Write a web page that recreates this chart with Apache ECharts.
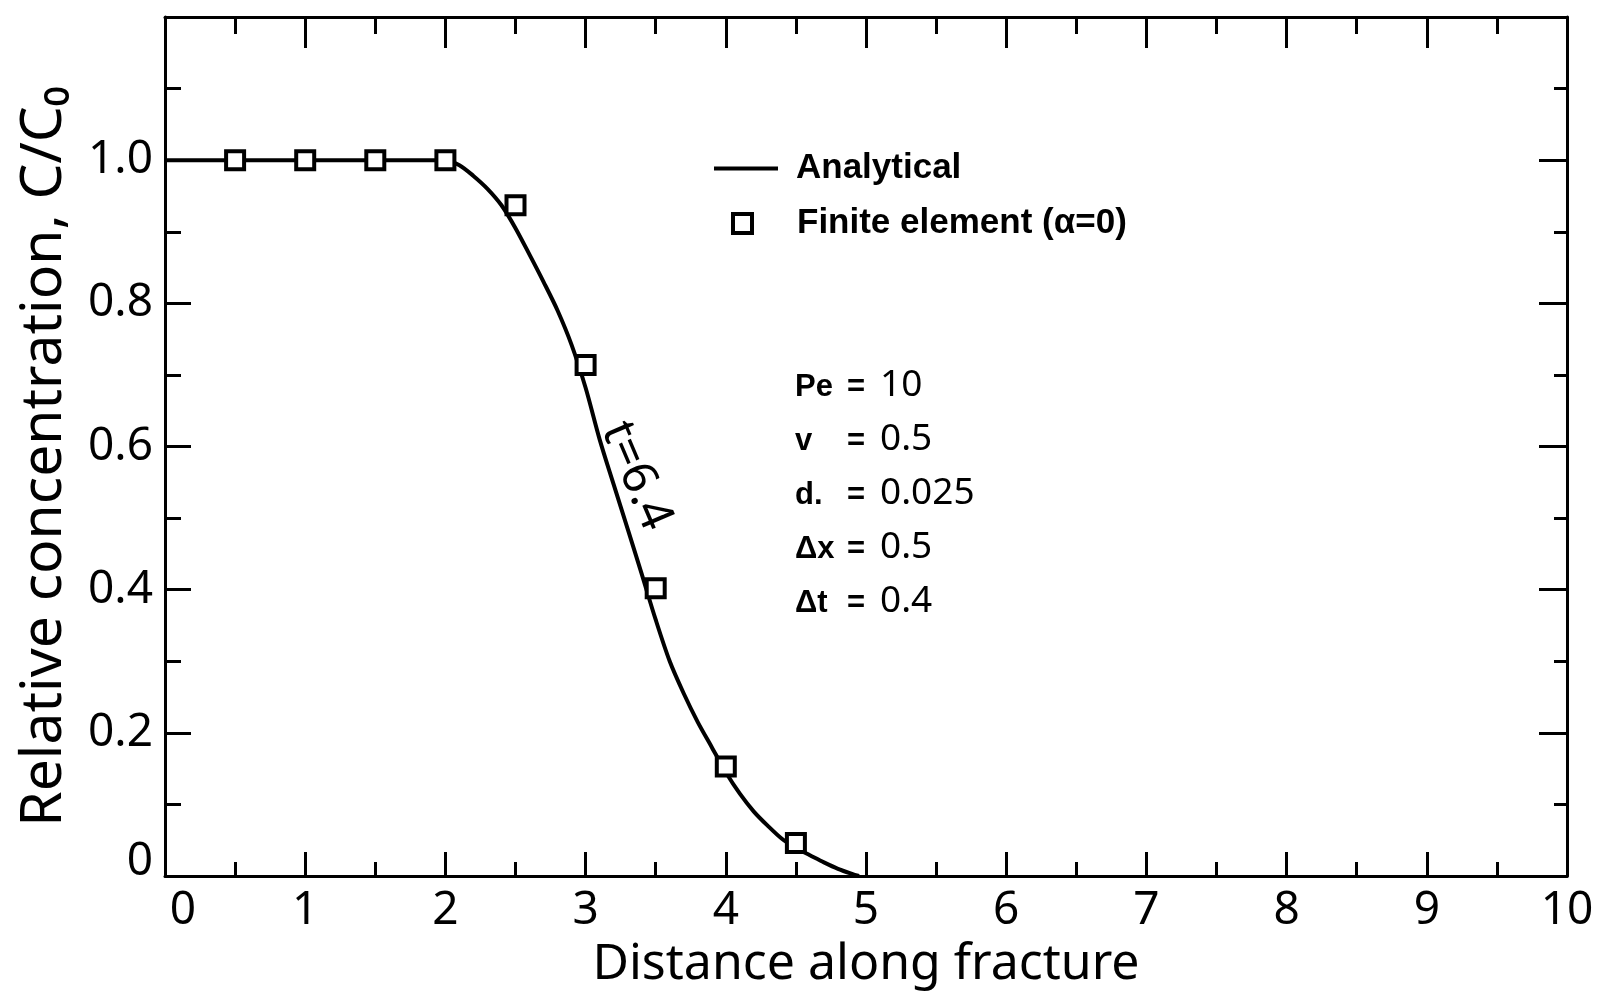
<!DOCTYPE html>
<html>
<head>
<meta charset="utf-8">
<script src="https://cdn.jsdelivr.net/npm/echarts@6/dist/echarts.min.js"></script>
<style>
html,body{margin:0;padding:0;background:#fff;}
#chart{width:1597px;height:1001px;}
</style>
</head>
<body>
<div id="chart"></div>
<script>
// Analytical curve
const analyticalX = [0, 1.0, 2.0, 2.1, 2.2, 2.3, 2.4, 2.5, 2.6, 2.7, 2.8, 2.9, 3.0, 3.1, 3.2, 3.3, 3.4, 3.5, 3.6, 3.7, 3.8, 3.9, 4.0, 4.1, 4.2, 4.3, 4.4, 4.5, 4.6, 4.7, 4.8, 4.9, 4.95];
const analyticalY = [1, 1, 1, 0.993, 0.978, 0.960, 0.937, 0.905, 0.868, 0.830, 0.790, 0.742, 0.682, 0.610, 0.547, 0.485, 0.422, 0.358, 0.300, 0.255, 0.215, 0.180, 0.145, 0.115, 0.090, 0.070, 0.052, 0.039, 0.029, 0.019, 0.010, 0.003, 0.0];
// Finite element points
const feX = [0.5, 1.0, 1.5, 2.0, 2.5, 3.0, 3.5, 4.0, 4.5];
const feY = [1.0, 1.0, 1.0, 1.0, 0.937, 0.714, 0.402, 0.153, 0.046];
// Axis ticks
const xTicks = [0, 1, 2, 3, 4, 5, 6, 7, 8, 9, 10];
const yTickLabels = ['0', '0.2', '0.4', '0.6', '0.8', '1.0', ''];
// Annotation texts
const paramLabels = ['Pe', 'v', 'd.', '\u0394x', '\u0394t'];
const paramValues = ['10', '0.5', '0.025', '0.5', '0.4'];
const curveLabel = 't=6.4';

const FONT = '"Noto Sans", "DejaVu Sans", sans-serif';
const BOLD = '"Liberation Sans", Arial, sans-serif';

const chart = echarts.init(document.getElementById('chart'), null, {renderer: 'canvas'});

const lineStyleAxis = {color: '#000', width: 3};
const axisCommon = {
  axisLine: {show: true, onZero: false, lineStyle: lineStyleAxis},
  splitLine: {show: false},
};

const paramGraphics = [];
paramLabels.forEach((lab, i) => {
  const y = 390 + i * 54;
  paramGraphics.push({type: 'text', left: 795, top: y - 18, style: {text: lab, font: 'bold 31px ' + BOLD, fill: '#000'}});
  paramGraphics.push({type: 'text', left: 847, top: y - 18, style: {text: '=', font: 'bold 31px ' + BOLD, fill: '#000'}});
  paramGraphics.push({type: 'text', left: 880, top: y - 23, style: {text: paramValues[i], font: '37px ' + FONT, fill: '#000'}});
});

const option = {
  animation: false,
  backgroundColor: '#fff',
  textStyle: {fontFamily: FONT, color: '#000'},
  grid: {left: 165, right: 30, top: 17, bottom: 125, containLabel: false},
  legend: [
    {
      data: [{name: 'Analytical', icon: 'rect'}], left: 709, top: 146, orient: 'vertical',
      itemWidth: 64, itemHeight: 4,
      itemStyle: {color: '#000', borderWidth: 0},
      textStyle: {fontFamily: BOLD, fontWeight: 'bold', fontSize: 35, color: '#000', padding: [0, 0, 0, 13]}
    },
    {
      data: ['Finite element (\u03b1=0)'], left: 726, top: 201, orient: 'vertical',
      itemWidth: 19, itemHeight: 19,
      itemStyle: {color: '#fff', borderColor: '#000', borderWidth: 4},
      textStyle: {fontFamily: BOLD, fontWeight: 'bold', fontSize: 35, color: '#000', padding: [0, 0, 0, 40]}
    }
  ],
  xAxis: [
    Object.assign({}, axisCommon, {
      type: 'value', position: 'bottom', min: 0, max: 10, interval: 1,
      name: 'Distance along fracture', nameLocation: 'middle', nameGap: 64,
      nameTextStyle: {fontSize: 50, color: '#000', fontFamily: FONT},
      axisTick: {show: true, inside: true, length: 24, lineStyle: lineStyleAxis},
      minorTick: {show: true, splitNumber: 2, length: 14, lineStyle: lineStyleAxis},
      axisLabel: {show: true, margin: 12, fontSize: 46, color: '#000', fontFamily: FONT,
        formatter: v => {
          const lab = String(xTicks[Math.round(v)]);
          return lab === '0' ? '{z|0}' : lab;
        },
        rich: {z: {fontSize: 46, fontFamily: FONT, color: '#000', padding: [0, 0, 0, 36]}}
      }
    }),
    Object.assign({}, axisCommon, {
      type: 'value', position: 'top', min: 0, max: 10, interval: 1,
      axisTick: {show: true, inside: true, length: 31, lineStyle: lineStyleAxis},
      minorTick: {show: true, splitNumber: 2, length: 17, lineStyle: lineStyleAxis},
      axisLabel: {show: false}
    })
  ],
  yAxis: [
    Object.assign({}, axisCommon, {
      type: 'value', position: 'left', min: 0, max: 1.2, interval: 0.2,
      name: 'Relative concentration, C/C\u2080', nameLocation: 'middle', nameGap: 92,
      nameTextStyle: {fontSize: 57, color: '#000', fontFamily: FONT, padding: [0, 20, 0, 0]},
      axisTick: {show: true, inside: true, length: 26, lineStyle: lineStyleAxis},
      minorTick: {show: true, splitNumber: 2, length: 16, lineStyle: lineStyleAxis},
      axisLabel: {show: true, margin: 12, fontSize: 46, color: '#000', fontFamily: FONT,
        formatter: v => {
          const lab = yTickLabels[Math.round(v / 0.2)];
          return lab === '0' ? '{z|0}' : lab;
        },
        rich: {z: {fontSize: 46, fontFamily: FONT, color: '#000', padding: [0, 0, 28, 0]}}
      }
    }),
    Object.assign({}, axisCommon, {
      type: 'value', position: 'right', min: 0, max: 1.2, interval: 0.2,
      axisTick: {show: true, inside: true, length: 28, lineStyle: lineStyleAxis},
      minorTick: {show: true, splitNumber: 2, length: 13, lineStyle: lineStyleAxis},
      axisLabel: {show: false}
    })
  ],
  series: [
    {
      name: 'Analytical', type: 'line', xAxisIndex: 0, yAxisIndex: 0,
      data: analyticalX.map((x, i) => [x, analyticalY[i]]),
      symbol: 'none', smooth: 0.3,
      lineStyle: {color: '#000', width: 4},
      itemStyle: {color: '#000'},
      z: 2
    },
    {
      name: 'Finite element (\u03b1=0)', type: 'scatter', xAxisIndex: 0, yAxisIndex: 0,
      data: feX.map((x, i) => [x, feY[i]]),
      symbol: 'rect', symbolSize: 18,
      itemStyle: {color: '#fff', borderColor: '#000', borderWidth: 4, opacity: 1},
      z: 3
    }
  ],
  graphic: [
    {
      type: 'text', x: 636, y: 476, rotation: -67 * Math.PI / 180,
      style: {text: curveLabel, font: '48px ' + FONT, fill: '#000', align: 'center', verticalAlign: 'middle'}
    }
  ].concat(paramGraphics)
};

chart.setOption(option);
</script>
</body>
</html>
